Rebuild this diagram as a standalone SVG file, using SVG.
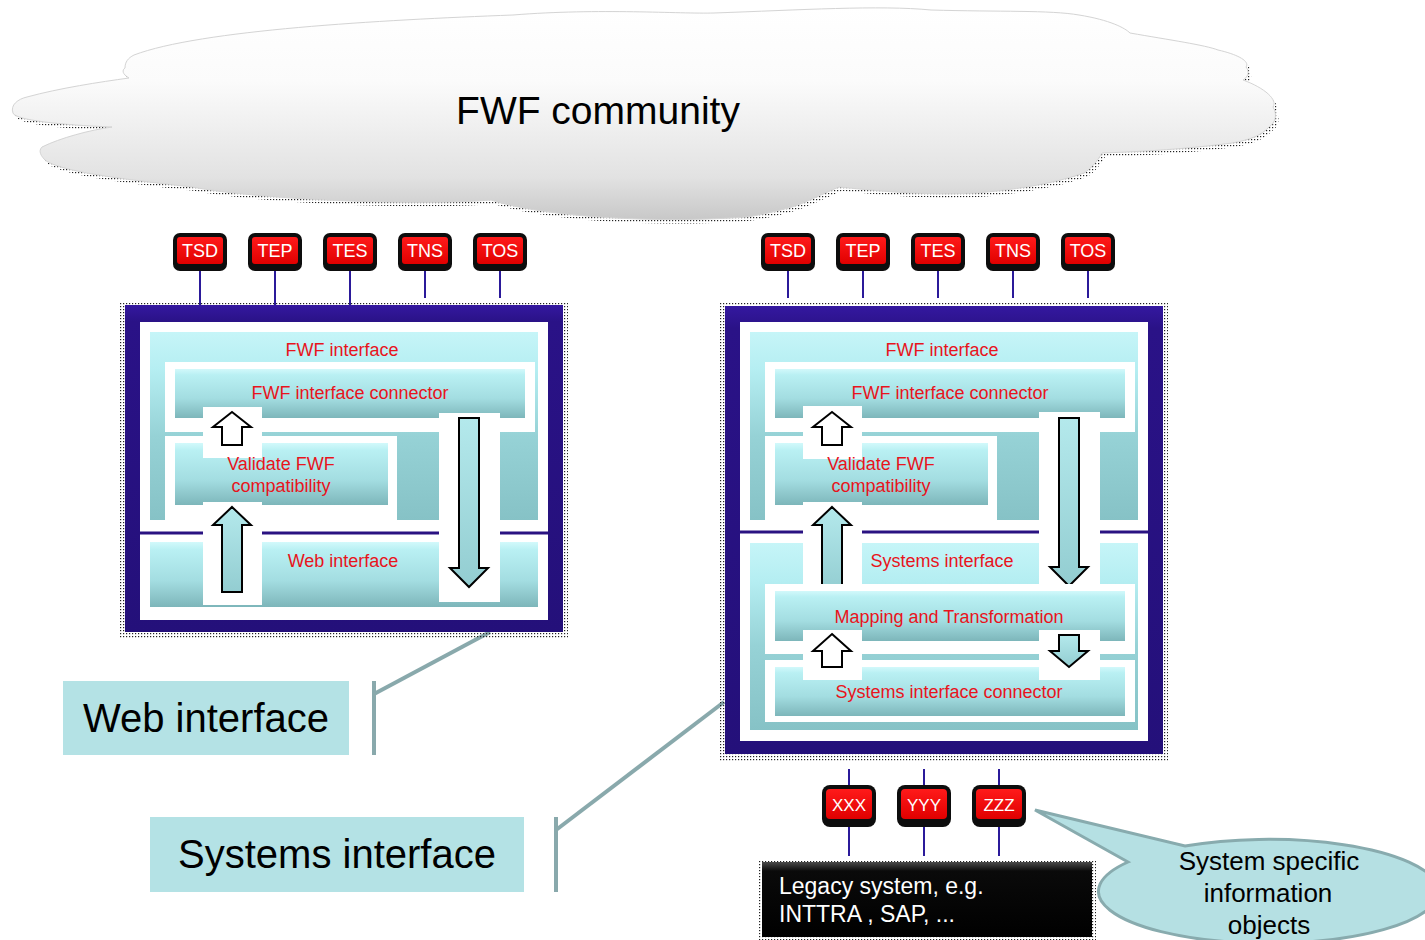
<svg xmlns="http://www.w3.org/2000/svg" width="1425" height="940" viewBox="0 0 1425 940">
  <style>
    .red { font-family: "Liberation Sans", Arial, sans-serif; font-size: 18px; fill: #e8141c; text-anchor: middle; }
    .tagtxt { font-family: "Liberation Sans", Arial, sans-serif; font-size: 18px; fill: #ffffff; text-anchor: middle; }
    .tagtxt-s { font-family: "Liberation Sans", Arial, sans-serif; font-size: 17px; fill: #ffffff; text-anchor: middle; }
    .big { font-family: "Liberation Sans", Arial, sans-serif; font-size: 40px; fill: #000000; text-anchor: middle; }
    .tag-o { fill: #0d0d0d; }
    .tag-i { fill: url(#redGrad); }
    .navy { fill: url(#navyGrad); }
    .white { fill: #ffffff; }
    .divider { stroke: #2a1282; stroke-width: 3; }
    .box { fill: url(#cyanGrad); }
    .bigbox { fill: url(#bigGrad); }
    .arrow-w { fill: #ffffff; stroke: #000000; stroke-width: 2; stroke-linejoin: miter; }
    .arrow-c { fill: url(#arrowGrad); stroke: #000000; stroke-width: 2; stroke-linejoin: miter; }
    .wire { stroke: #2b1a9a; stroke-width: 2; fill: none; }
    .leader { stroke: #89a9ac; stroke-width: 4; fill: none; }
    .label { fill: #b4e2e5; }
    .shadow { fill: url(#dots); }
  </style>
  <defs>
    <pattern id="dots" width="3" height="3" patternUnits="userSpaceOnUse">
      <rect width="1.2" height="1.2" fill="#222"/>
    </pattern>
    <linearGradient id="cloudGrad" x1="0" y1="0" x2="0" y2="1">
      <stop offset="0" stop-color="#ffffff"/>
      <stop offset="0.35" stop-color="#fbfbfb"/>
      <stop offset="0.8" stop-color="#e2e2e2"/>
      <stop offset="1" stop-color="#c8c8c8"/>
    </linearGradient>
    <linearGradient id="navyGrad" x1="0" y1="0" x2="0" y2="1">
      <stop offset="0" stop-color="#3418a0"/>
      <stop offset="0.05" stop-color="#2a1287"/>
      <stop offset="1" stop-color="#24107a"/>
    </linearGradient>
    <linearGradient id="redGrad" x1="0" y1="0" x2="0" y2="1">
      <stop offset="0" stop-color="#ff1a1a"/>
      <stop offset="1" stop-color="#e00000"/>
    </linearGradient>
    <linearGradient id="cyanGrad" x1="0" y1="0" x2="0" y2="1">
      <stop offset="0" stop-color="#d2f9fb"/>
      <stop offset="0.12" stop-color="#b9f0f3"/>
      <stop offset="0.6" stop-color="#a3dde1"/>
      <stop offset="1" stop-color="#7db6ba"/>
    </linearGradient>
    <linearGradient id="bigGrad" x1="0" y1="0" x2="0" y2="1">
      <stop offset="0" stop-color="#c6f5f8"/>
      <stop offset="0.2" stop-color="#b5eef2"/>
      <stop offset="0.55" stop-color="#96d2d6"/>
      <stop offset="1" stop-color="#86c2c6"/>
    </linearGradient>
    <linearGradient id="arrowGrad" x1="0" y1="0" x2="0" y2="1">
      <stop offset="0" stop-color="#b4e9ec"/>
      <stop offset="1" stop-color="#93cdd1"/>
    </linearGradient>
    <linearGradient id="legacyGrad" x1="0" y1="0" x2="0" y2="1">
      <stop offset="0" stop-color="#4a4a4a"/>
      <stop offset="0.12" stop-color="#0a0a0a"/>
      <stop offset="1" stop-color="#000000"/>
    </linearGradient>
    <filter id="soft" x="-5%" y="-20%" width="110%" height="140%">
      <feGaussianBlur stdDeviation="1.5"/>
    </filter>
  </defs>

  <!-- Cloud -->
  <g id="cloud">
    <path class="shadow" transform="translate(3,4)" d="M 134,55 C 200,30 380,20 513,15 C 600,8 680,14 714,13 C 800,10 880,5 931,10 C 1000,12 1050,10 1079,15 C 1110,20 1125,28 1130,33 C 1170,40 1205,45 1218,50 C 1240,55 1250,62 1246,67 C 1250,72 1248,77 1243,80 C 1265,88 1278,100 1273,107 C 1278,115 1275,123 1269,127 C 1262,135 1250,140 1232,143 C 1180,150 1130,152 1102,153 C 1098,160 1092,168 1084,173 C 1050,185 1010,190 977,193 C 920,196 870,190 839,187 C 820,195 805,203 792,207 C 770,213 755,216 746,217 C 650,224 540,216 491,200 C 420,206 260,200 192,187 C 130,180 60,172 45,160 C 38,153 40,149 42,147 C 60,138 90,130 112,127 C 60,125 15,120 13,113 C 10,105 18,99 27,97 C 60,88 100,82 129,78 C 122,74 122,70 125,68 C 125,62 128,58 134,55 Z"/>
    <path fill="url(#cloudGrad)" stroke="#d4d4d4" stroke-width="1" d="M 134,55 C 200,30 380,20 513,15 C 600,8 680,14 714,13 C 800,10 880,5 931,10 C 1000,12 1050,10 1079,15 C 1110,20 1125,28 1130,33 C 1170,40 1205,45 1218,50 C 1240,55 1250,62 1246,67 C 1250,72 1248,77 1243,80 C 1265,88 1278,100 1273,107 C 1278,115 1275,123 1269,127 C 1262,135 1250,140 1232,143 C 1180,150 1130,152 1102,153 C 1098,160 1092,168 1084,173 C 1050,185 1010,190 977,193 C 920,196 870,190 839,187 C 820,195 805,203 792,207 C 770,213 755,216 746,217 C 650,224 540,216 491,200 C 420,206 260,200 192,187 C 130,180 60,172 45,160 C 38,153 40,149 42,147 C 60,138 90,130 112,127 C 60,125 15,120 13,113 C 10,105 18,99 27,97 C 60,88 100,82 129,78 C 122,74 122,70 125,68 C 125,62 128,58 134,55 Z"/>
    <text x="598" y="124" font-family="'Liberation Sans', Arial, sans-serif" font-size="39" text-anchor="middle" fill="#000">FWF community</text>
  </g>

  <!-- Connectors -->
  <g id="connectors">
    <line class="wire" x1="200" y1="270" x2="200" y2="306"/>
    <line class="wire" x1="275" y1="270" x2="275" y2="306"/>
    <line class="wire" x1="350" y1="270" x2="350" y2="306"/>
    <line class="wire" x1="425" y1="270" x2="425" y2="298"/>
    <line class="wire" x1="500" y1="270" x2="500" y2="298"/>
    <line class="wire" x1="788" y1="271" x2="788" y2="298"/>
    <line class="wire" x1="863" y1="271" x2="863" y2="298"/>
    <line class="wire" x1="938" y1="271" x2="938" y2="298"/>
    <line class="wire" x1="1013" y1="271" x2="1013" y2="298"/>
    <line class="wire" x1="1088" y1="271" x2="1088" y2="298"/>
    <line class="wire" x1="849" y1="769" x2="849" y2="785"/>
    <line class="wire" x1="924" y1="769" x2="924" y2="785"/>
    <line class="wire" x1="999" y1="769" x2="999" y2="785"/>
    <line class="wire" x1="849" y1="826" x2="849" y2="856"/>
    <line class="wire" x1="924" y1="826" x2="924" y2="856"/>
    <line class="wire" x1="999" y1="826" x2="999" y2="856"/>
    <polyline class="leader" points="374,681 374,755"/>
    <polyline class="leader" points="374,694 490,632"/>
    <polyline class="leader" points="556,817 556,892"/>
    <polyline class="leader" points="556,830 724,702"/>
  </g>

  <!-- Left stack: web interface -->
  <g id="web-stack">
    <rect class="shadow" x="120" y="302" width="448" height="336"/>
    <rect class="navy" x="125" y="305" width="438" height="327"/>
    <rect class="white" x="140" y="322" width="408" height="298"/>
    <line class="divider" x1="140" y1="533" x2="548" y2="533"/>
    <rect class="bigbox" x="150" y="332" width="388" height="188"/>
    <rect class="white" x="165" y="362" width="370" height="70"/>
    <rect class="box" x="175" y="369" width="350" height="49"/>
    <rect class="white" x="165" y="436" width="232" height="84"/>
    <rect class="box" x="175" y="443" width="213" height="62"/>
    <rect class="box" x="150" y="542" width="388" height="65"/>
    <rect class="white" x="203" y="407" width="59" height="51"/>
    <rect class="white" x="203" y="502" width="59" height="103"/>
    <rect class="white" x="439" y="413" width="61" height="189"/>
    <polygon class="arrow-w" points="232,412 251,427 242,427 242,445 222,445 222,427 213,427"/>
    <polygon class="arrow-c" points="232,507 251,525 242,525 242,592 222,592 222,525 213,525"/>
    <polygon class="arrow-c" points="459,418 479,418 479,568 488,568 469,587 450,568 459,568"/>
    <text class="red" x="342" y="356">FWF interface</text>
    <text class="red" x="350" y="399">FWF interface connector</text>
    <text class="red" x="281" y="470">Validate FWF</text>
    <text class="red" x="281" y="492">compatibility</text>
    <text class="red" x="343" y="567">Web interface</text>
  </g>

  <!-- Right stack: systems interface -->
  <g id="systems-stack">
    <rect class="shadow" x="720" y="303" width="448" height="459"/>
    <rect class="navy" x="725" y="306" width="438" height="448"/>
    <rect class="white" x="740" y="322" width="408" height="419"/>
    <line class="divider" x1="740" y1="532" x2="1148" y2="532"/>
    <rect class="bigbox" x="750" y="332" width="388" height="188"/>
    <rect class="white" x="765" y="362" width="370" height="70"/>
    <rect class="box" x="775" y="369" width="350" height="49"/>
    <rect class="white" x="765" y="436" width="232" height="84"/>
    <rect class="box" x="775" y="443" width="213" height="62"/>
    <rect class="bigbox" x="750" y="543" width="388" height="187"/>
    <rect class="white" x="803" y="406" width="59" height="53"/>
    <rect class="white" x="803" y="502" width="59" height="82"/>
    <rect class="white" x="1039" y="412" width="61" height="189"/>
    <polygon class="arrow-w" points="832,412 851,427 842,427 842,445 822,445 822,427 813,427"/>
    <polygon class="arrow-c" points="832,507 851,525 842,525 842,592 822,592 822,525 813,525"/>
    <polygon class="arrow-c" points="1059,418 1079,418 1079,567 1088,567 1069,586 1050,567 1059,567"/>
    <rect class="white" x="765" y="584" width="370" height="70"/>
    <rect class="box" x="775" y="591" width="350" height="50"/>
    <rect class="white" x="765" y="660" width="370" height="62"/>
    <rect class="box" x="775" y="667" width="350" height="49"/>
    <rect class="white" x="803" y="630" width="59" height="50"/>
    <rect class="white" x="1039" y="630" width="61" height="50"/>
    <polygon class="arrow-w" points="832,634 851,651 842,651 842,667 822,667 822,651 813,651"/>
    <polygon class="arrow-c" points="1059,635 1079,635 1079,651 1088,651 1069,667 1050,651 1059,651"/>
    <text class="red" x="942" y="356">FWF interface</text>
    <text class="red" x="950" y="399">FWF interface connector</text>
    <text class="red" x="881" y="470">Validate FWF</text>
    <text class="red" x="881" y="492">compatibility</text>
    <text class="red" x="942" y="567">Systems interface</text>
    <text class="red" x="949" y="623">Mapping and Transformation</text>
    <text class="red" x="949" y="698">Systems interface connector</text>
  </g>

  <!-- Service tags, left -->
  <g id="tag-l-tsd"><rect class="tag-o" x="173" y="233" width="54" height="38" rx="7"/><rect class="tag-i" x="177" y="237" width="46" height="27" rx="3"/><text class="tagtxt" x="200" y="257">TSD</text></g>
  <g id="tag-l-tep"><rect class="tag-o" x="248" y="233" width="54" height="38" rx="7"/><rect class="tag-i" x="252" y="237" width="46" height="27" rx="3"/><text class="tagtxt" x="275" y="257">TEP</text></g>
  <g id="tag-l-tes"><rect class="tag-o" x="323" y="233" width="54" height="38" rx="7"/><rect class="tag-i" x="327" y="237" width="46" height="27" rx="3"/><text class="tagtxt" x="350" y="257">TES</text></g>
  <g id="tag-l-tns"><rect class="tag-o" x="398" y="233" width="54" height="38" rx="7"/><rect class="tag-i" x="402" y="237" width="46" height="27" rx="3"/><text class="tagtxt" x="425" y="257">TNS</text></g>
  <g id="tag-l-tos"><rect class="tag-o" x="473" y="233" width="54" height="38" rx="7"/><rect class="tag-i" x="477" y="237" width="46" height="27" rx="3"/><text class="tagtxt" x="500" y="257">TOS</text></g>

  <!-- Service tags, right -->
  <g id="tag-r-tsd"><rect class="tag-o" x="761" y="233" width="54" height="38" rx="7"/><rect class="tag-i" x="765" y="237" width="46" height="27" rx="3"/><text class="tagtxt" x="788" y="257">TSD</text></g>
  <g id="tag-r-tep"><rect class="tag-o" x="836" y="233" width="54" height="38" rx="7"/><rect class="tag-i" x="840" y="237" width="46" height="27" rx="3"/><text class="tagtxt" x="863" y="257">TEP</text></g>
  <g id="tag-r-tes"><rect class="tag-o" x="911" y="233" width="54" height="38" rx="7"/><rect class="tag-i" x="915" y="237" width="46" height="27" rx="3"/><text class="tagtxt" x="938" y="257">TES</text></g>
  <g id="tag-r-tns"><rect class="tag-o" x="986" y="233" width="54" height="38" rx="7"/><rect class="tag-i" x="990" y="237" width="46" height="27" rx="3"/><text class="tagtxt" x="1013" y="257">TNS</text></g>
  <g id="tag-r-tos"><rect class="tag-o" x="1061" y="233" width="54" height="38" rx="7"/><rect class="tag-i" x="1065" y="237" width="46" height="27" rx="3"/><text class="tagtxt" x="1088" y="257">TOS</text></g>

  <!-- System specific tags -->
  <g id="tag-xxx"><rect class="tag-o" x="822" y="785" width="54" height="42" rx="8"/><rect class="tag-i" x="826" y="789" width="46" height="30" rx="4"/><text class="tagtxt-s" x="849" y="811">XXX</text></g>
  <g id="tag-yyy"><rect class="tag-o" x="897" y="785" width="54" height="42" rx="8"/><rect class="tag-i" x="901" y="789" width="46" height="30" rx="4"/><text class="tagtxt-s" x="924" y="811">YYY</text></g>
  <g id="tag-zzz"><rect class="tag-o" x="972" y="785" width="54" height="42" rx="8"/><rect class="tag-i" x="976" y="789" width="46" height="30" rx="4"/><text class="tagtxt-s" x="999" y="811">ZZZ</text></g>

  <!-- Legacy system -->
  <g id="legacy">
    <rect class="shadow" x="759" y="860" width="337" height="80"/>
    <rect fill="url(#legacyGrad)" x="762" y="862" width="330" height="75"/>
    <text x="779" y="894" font-family="'Liberation Sans', Arial, sans-serif" font-size="23" fill="#ffffff">Legacy system, e.g.</text>
    <text x="779" y="922" font-family="'Liberation Sans', Arial, sans-serif" font-size="23" fill="#ffffff">INTTRA , SAP, ...</text>
  </g>

  <!-- Callout -->
  <g id="callout">
    <path fill="#b5e0e3" stroke="#88abae" stroke-width="3" d="M 1128,862 L 1035,810 L 1185,846 A 170 52 0 1 1 1128,862 Z"/>
    <text x="1269" y="870" font-family="'Liberation Sans', Arial, sans-serif" font-size="26" text-anchor="middle" fill="#000">System specific</text>
    <text x="1268" y="902" font-family="'Liberation Sans', Arial, sans-serif" font-size="26" text-anchor="middle" fill="#000">information</text>
    <text x="1269" y="934" font-family="'Liberation Sans', Arial, sans-serif" font-size="26" text-anchor="middle" fill="#000">objects</text>
  </g>

  <!-- Side labels -->
  <g id="label-web">
    <rect class="label" x="63" y="681" width="286" height="74"/>
    <text class="big" x="206" y="732">Web interface</text>
  </g>
  <g id="label-systems">
    <rect class="label" x="150" y="817" width="374" height="75"/>
    <text class="big" x="337" y="868">Systems interface</text>
  </g>
</svg>
